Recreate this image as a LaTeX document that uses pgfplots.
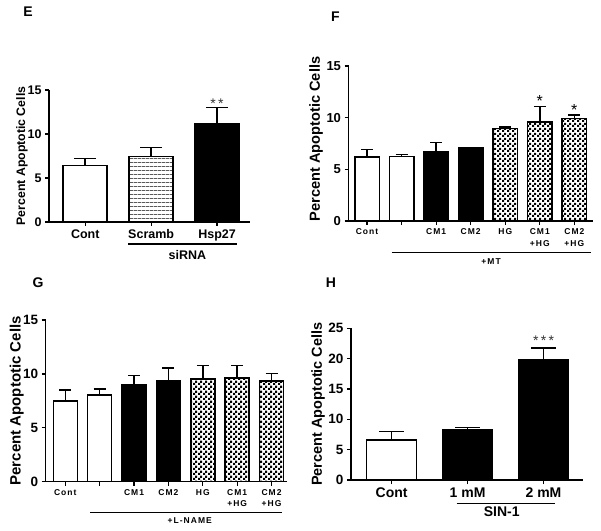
\documentclass[border=0pt]{standalone}
\usepackage{fontspec}
\setmainfont{Liberation Sans}
\newfontfamily\lbl[LetterSpace=12]{Liberation Sans}
\usepackage{pgfplots}
\pgfplotsset{compat=1.18}
\usetikzlibrary{patterns,patterns.meta}

\pgfdeclarepatternformonly{smallcheck}{\pgfqpoint{0pt}{0pt}}{\pgfqpoint{4.6pt}{4.6pt}}{\pgfqpoint{4.6pt}{4.6pt}}{%
  \pgfpathrectangle{\pgfqpoint{0pt}{0pt}}{\pgfqpoint{2.3pt}{2.3pt}}%
  \pgfpathrectangle{\pgfqpoint{2.3pt}{2.3pt}}{\pgfqpoint{2.3pt}{2.3pt}}%
  \pgfusepath{fill}}

\pgfplotsset{
  prism/.style={
    scale only axis, anchor=south west, axis lines=left,
    axis line style={-, line width=1.5pt},
    tick align=outside, major tick length=4pt,
    major tick style={line width=1.2pt, black},
    ymin=0, clip=false,
    /pgf/number format/assume math mode=true,
    ylabel={Percent Apoptotic Cells},
    every axis y label/.style={rotate=90, anchor=center},
    xticklabel style={align=center},
  },
  pbar/.style 2 args={ybar, bar width=#1, bar shift=0pt, draw=black, line width=1.5pt,
    error bars/y dir=plus, error bars/y explicit,
    error bars/error bar style={line width=1.5pt, black, solid},
    error bars/error mark options={rotate=90, line width=1.5pt, black, solid, mark size=#2},
  },
}

\begin{document}
\begin{tikzpicture}[x=1pt,y=1pt]
\path[use as bounding box] (0,0) rectangle (601,530);
\fill[white] (0,0) rectangle (601,530);

% panel letters
\node[font=\fontsize{14}{14}\selectfont\bfseries] at (28,518) {E};
\node[font=\fontsize{14}{14}\selectfont\bfseries] at (335.5,513) {F};
\node[font=\fontsize{14}{14}\selectfont\bfseries] at (38,247.5) {G};
\node[font=\fontsize{14}{14}\selectfont\bfseries] at (331,247) {H};

% ---------------- E ----------------
\begin{axis}[prism, at={(49pt,308pt)}, width=201pt, height=132pt,
  xmin=-0.55, xmax=2.5, ymax=15, ytick={0,5,10,15},
  xtick={0,1,2}, xticklabels={Cont,Scramb,Hsp27},
  tick label style={font=\fontsize{12.5}{14}\selectfont\bfseries},
  ylabel style={font=\fontsize{12.3}{14}\selectfont\bfseries, at={(axis description cs:-0.135,0.5)}}]
\addplot[pbar={44pt}{11pt}, fill=white] table[x=x,y=y,y error=e] {
x y e
0 6.42 0.80
};
\addplot[pbar={44pt}{11pt}, pattern={Lines[angle=0,distance=4pt,line width=0.9pt]}] table[x=x,y=y,y error=e] {
x y e
1 7.42 1.07
};
\addplot[pbar={44pt}{11pt}, fill=black] table[x=x,y=y,y error=e] {
x y e
2 11.2 1.80
};
\draw[line width=1.3pt] ([yshift=-22pt]axis cs:0.65,0) -- ([yshift=-22pt]axis cs:2.31,0);
\node[font=\fontsize{12.5}{14}\selectfont\bfseries] at ([yshift=-33pt]axis cs:1.55,0) {siRNA};
\node[font=\fontsize{14}{14}\selectfont, text=black!80] at (axis cs:2,13.4) {*\,*};
\end{axis}

% ---------------- F ----------------
\begin{axis}[prism, at={(348.5pt,309pt)}, width=244.5pt, height=155pt,
  xmin=-0.536, xmax=6.54, ymax=15, ytick={0,5,10,15},
  xtick={0,1,2,3,4,5,6}, xticklabels={Cont,{},CM1,CM2,HG,{CM1\\+HG},{CM2\\+HG}},
  yticklabel style={font=\fontsize{13}{14}\selectfont\bfseries},
  xticklabel style={font=\lbl\fontsize{8.5}{11.7}\selectfont\bfseries},
  ylabel style={font=\fontsize{14.6}{16}\selectfont\bfseries, at={(axis description cs:-0.133,0.529)}}]
\addplot[pbar={24.5pt}{6pt}, fill=white] table[x=x,y=y,y error=e] {
x y e
0 6.17 0.77
1 6.23 0.19
};
\addplot[pbar={24.5pt}{6pt}, fill=black] table[x=x,y=y,y error=e] {
x y e
2 6.71 0.91
3 7.05 0.0
};
\addplot[pbar={24.5pt}{6pt}, pattern=smallcheck] table[x=x,y=y,y error=e] {
x y e
4 8.97 0.13
5 9.58 1.49
6 9.90 0.36
};
\draw[line width=1.3pt] ([yshift=-31.3pt]axis cs:0.715,0) -- ([yshift=-31.3pt]axis cs:6.48,0);
\node[font=\lbl\fontsize{8.5}{10}\selectfont\bfseries] at ([yshift=-41pt]axis cs:3.59,0) {+MT};
\node[font=\fontsize{16}{16}\selectfont] at (axis cs:5,11.6) {*};
\node[font=\fontsize{16}{16}\selectfont] at (axis cs:6,10.7) {*};
\end{axis}

% ---------------- G ----------------
\begin{axis}[prism, at={(45.7pt,48.3pt)}, width=241pt, height=161.7pt,
  xmin=-0.57, xmax=6.44, ymax=15, ytick={0,5,10,15},
  xtick={0,1,2,3,4,5,6}, xticklabels={Cont,{},CM1,CM2,HG,{CM1\\+HG},{CM2\\+HG}},
  yticklabel style={font=\fontsize{13.5}{14}\selectfont\bfseries},
  xticklabel style={font=\lbl\fontsize{8.5}{11.7}\selectfont\bfseries},
  ylabel style={font=\fontsize{15}{16}\selectfont\bfseries, at={(axis description cs:-0.12,0.5)}}]
\addplot[pbar={24pt}{6pt}, fill=white] table[x=x,y=y,y error=e] {
x y e
0 7.48 1.02
1 8.03 0.57
};
\addplot[pbar={24pt}{6pt}, fill=black] table[x=x,y=y,y error=e] {
x y e
2 8.96 0.90
3 9.37 1.20
};
\addplot[pbar={24pt}{6pt}, pattern=smallcheck] table[x=x,y=y,y error=e] {
x y e
4 9.52 1.28
5 9.61 1.19
6 9.33 0.72
};
\draw[line width=1.3pt] ([yshift=-31pt]axis cs:0.72,0) -- ([yshift=-31pt]axis cs:6.29,0);
\node[font=\lbl\fontsize{8.5}{10}\selectfont\bfseries] at ([yshift=-39pt]axis cs:3.62,0) {+L-NAME};
\end{axis}

% ---------------- H ----------------
\begin{axis}[prism, at={(351pt,50pt)}, width=232pt, height=151.7pt,
  xmin=-0.535, xmax=2.52, ymax=25, ytick={0,5,10,15,20,25},
  xtick={0,1,2}, xticklabels={Cont,1 mM,2 mM},
  yticklabel style={font=\fontsize{13.5}{14}\selectfont\bfseries},
  xticklabel style={font=\fontsize{14}{15}\selectfont\bfseries},
  ylabel style={font=\fontsize{14.5}{16}\selectfont\bfseries, at={(axis description cs:-0.142,0.5)}}]
\addplot[pbar={50pt}{12.5pt}, fill=white] table[x=x,y=y,y error=e] {
x y e
0 6.59 1.38
};
\addplot[pbar={50pt}{12.5pt}, fill=black] table[x=x,y=y,y error=e] {
x y e
1 8.24 0.39
2 19.78 1.98
};
\draw[line width=1.3pt] ([yshift=-23.3pt]axis cs:0.855,0) -- ([yshift=-23.3pt]axis cs:2.15,0);
\node[font=\fontsize{14}{15}\selectfont\bfseries] at ([yshift=-32pt]axis cs:1.45,0) {SIN-1};
\node[font=\fontsize{14}{14}\selectfont, text=black!80] at (axis cs:2,22.9) {*\,*\,*};
\end{axis}
\end{tikzpicture}
\end{document}
